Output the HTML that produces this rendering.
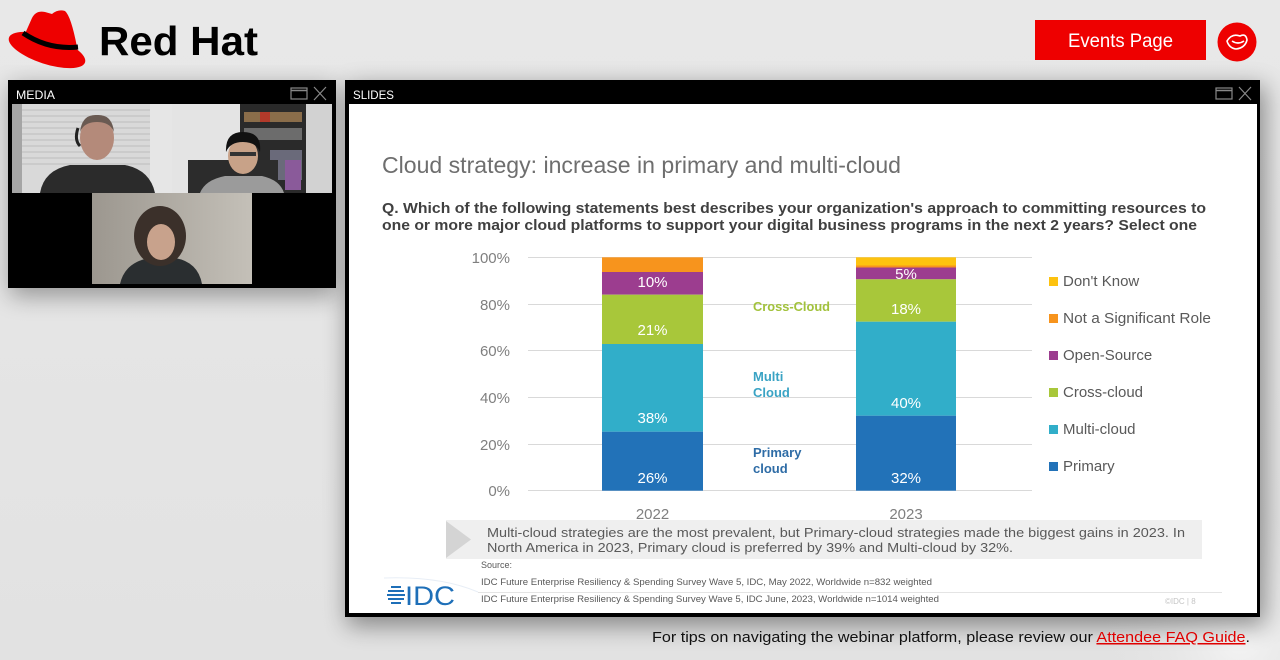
<!DOCTYPE html>
<html><head><meta charset="utf-8">
<style>
html,body{margin:0;padding:0;width:1280px;height:660px;overflow:hidden;background:#e3e3e3;}
svg{display:block;}
text{font-family:"Liberation Sans",Arial,sans-serif;}
</style></head>
<body>
<svg width="1280" height="660" viewBox="0 0 1280 660" xmlns="http://www.w3.org/2000/svg">
<defs>
  <linearGradient id="bg" x1="0" y1="0" x2="0" y2="1">
    <stop offset="0" stop-color="#e8e8e8"/>
    <stop offset="1" stop-color="#e2e2e2"/>
  </linearGradient>
  <radialGradient id="swoosh" cx="1240" cy="640" r="140" gradientUnits="userSpaceOnUse">
    <stop offset="0" stop-color="#f4f4f4"/>
    <stop offset="1" stop-color="#e3e3e3" stop-opacity="0"/>
  </radialGradient>
  <filter id="sh" x="-10%" y="-10%" width="125%" height="135%">
    <feGaussianBlur stdDeviation="12"/>
  </filter>
  <linearGradient id="wall" x1="0" y1="0" x2="1" y2="0">
    <stop offset="0" stop-color="#9c978f"/>
    <stop offset="1" stop-color="#c4c0b8"/>
  </linearGradient>
</defs>

<rect width="1280" height="660" fill="url(#bg)"/>
<rect width="1280" height="660" fill="url(#swoosh)"/>

<!-- Red Hat logo -->
<g>
  <ellipse cx="47" cy="50" rx="40" ry="14" transform="rotate(18 47 50)" fill="#ee0000"/>
  <path d="M24 36 L32 18 Q36 10 45 12 L52 14 Q58 9 65 11 Q71 16 77 47 Z" fill="#ee0000"/>
  <path d="M23 33 Q48 50 78 47" stroke="#000" stroke-width="5" fill="none"/>
</g>
<text x="99" y="55" font-size="41" font-weight="bold" fill="#000" textLength="159" lengthAdjust="spacingAndGlyphs">Red Hat</text>

<!-- Events button -->
<rect x="1035" y="20" width="171" height="40" fill="#ee0000"/>
<text x="1068" y="47" font-size="19" fill="#fff" textLength="105" lengthAdjust="spacingAndGlyphs">Events Page</text>
<circle cx="1237" cy="42" r="19.5" fill="#ee0000"/>
<path d="M1227 41 Q1232 33 1240 36 Q1246 33 1247 40 Q1245 48 1236 49 Q1229 48 1227 41 Z M1232 41 Q1238 45 1244 41" stroke="#fff" stroke-width="1.6" fill="none"/>

<!-- shadows -->
<rect x="10" y="86" width="326" height="210" fill="#000" opacity="0.35" filter="url(#sh)"/>
<rect x="347" y="86" width="918" height="540" fill="#000" opacity="0.4" filter="url(#sh)"/>

<!-- MEDIA panel -->
<rect x="8" y="80" width="328" height="208" fill="#000"/>
<text x="16" y="99" font-size="12" fill="#fff" textLength="39" lengthAdjust="spacingAndGlyphs">MEDIA</text>
<rect x="291" y="88" width="16" height="11" fill="none" stroke="#888" stroke-width="1.2"/>
<line x1="291" y1="90.5" x2="307" y2="90.5" stroke="#888" stroke-width="1.5"/>
<path d="M314 87 L326 100 M326 87 L314 100" stroke="#888" stroke-width="1.2"/>

<!-- video 1 -->
<rect x="12" y="104" width="160" height="89" fill="#d9d9d9"/>
<g stroke="#bdbdbd" stroke-width="1">
  <line x1="22" y1="110" x2="150" y2="110"/><line x1="22" y1="116" x2="150" y2="116"/>
  <line x1="22" y1="122" x2="150" y2="122"/><line x1="22" y1="128" x2="150" y2="128"/>
  <line x1="22" y1="134" x2="150" y2="134"/><line x1="22" y1="140" x2="150" y2="140"/>
  <line x1="22" y1="146" x2="150" y2="146"/><line x1="22" y1="152" x2="150" y2="152"/>
  <line x1="22" y1="158" x2="150" y2="158"/><line x1="22" y1="164" x2="150" y2="164"/>
</g>
<rect x="12" y="104" width="10" height="89" fill="#a5a5a5"/>
<rect x="150" y="104" width="22" height="89" fill="#e6e6e6"/>
<path d="M40 193 Q44 170 70 165 L125 165 Q150 170 155 193 Z" fill="#2b2b2b"/>
<ellipse cx="97" cy="138" rx="17" ry="22" fill="#b48a7a"/>
<path d="M80 132 Q82 114 97 115 Q112 114 114 132 Q110 122 97 122 Q84 122 80 132 Z" fill="#6a5a52"/>
<path d="M78 128 Q74 140 80 146" stroke="#222" stroke-width="3" fill="none"/>

<!-- video 2 -->
<rect x="172" y="104" width="160" height="89" fill="#e4e4e4"/>
<rect x="240" y="104" width="66" height="89" fill="#2a2a2a"/>
<rect x="244" y="112" width="58" height="10" fill="#8a6d4a"/>
<rect x="260" y="112" width="10" height="10" fill="#b23a2a"/>
<rect x="244" y="128" width="58" height="12" fill="#6c6c6c"/>
<rect x="270" y="150" width="32" height="30" fill="#6a6a7a"/>
<rect x="285" y="160" width="16" height="30" fill="#8a5a9a"/>
<rect x="306" y="104" width="26" height="89" fill="#d2d2d2"/>
<rect x="188" y="160" width="90" height="33" fill="#2c2c2c"/>
<path d="M200 193 Q205 180 225 176 L262 176 Q280 180 284 193 Z" fill="#9b9b9b"/>
<ellipse cx="243" cy="156" rx="15" ry="18" fill="#c8a288"/>
<path d="M226 152 Q225 132 243 132 Q262 132 260 152 Q256 142 243 142 Q230 142 226 152 Z" fill="#111"/>
<rect x="230" y="152" width="26" height="4" fill="#333"/>

<!-- video 3 -->
<rect x="92" y="193" width="160" height="91" fill="url(#wall)"/>
<path d="M120 284 Q125 262 150 258 L175 258 Q198 262 202 284 Z" fill="#2a2e30"/>
<ellipse cx="160" cy="236" rx="26" ry="30" fill="#3b302a"/>
<ellipse cx="161" cy="242" rx="14" ry="18" fill="#c8a28c"/>

<!-- SLIDES panel -->
<rect x="345" y="80" width="915" height="537" fill="#000"/>
<text x="353" y="99" font-size="12" fill="#fff" textLength="41" lengthAdjust="spacingAndGlyphs">SLIDES</text>
<rect x="1216" y="88" width="16" height="11" fill="none" stroke="#888" stroke-width="1.2"/>
<line x1="1216" y1="90.5" x2="1232" y2="90.5" stroke="#888" stroke-width="1.5"/>
<path d="M1239 87 L1251 100 M1251 87 L1239 100" stroke="#888" stroke-width="1.2"/>
<rect x="349" y="104" width="908" height="509" fill="#fff"/>

<!-- Title -->
<text x="382" y="173" font-size="23" fill="#6e6e6e" textLength="519" lengthAdjust="spacingAndGlyphs">Cloud strategy: increase in primary and multi-cloud</text>
<text x="382" y="213" font-size="15" font-weight="bold" fill="#404040" textLength="824" lengthAdjust="spacingAndGlyphs">Q. Which of the following statements best describes your organization's approach to committing resources to</text>
<text x="382" y="230" font-size="15" font-weight="bold" fill="#404040" textLength="815" lengthAdjust="spacingAndGlyphs">one or more major cloud platforms to support your digital business programs in the next 2 years? Select one</text>

<!-- gridlines -->
<g stroke="#d9d9d9" stroke-width="1">
  <line x1="528" y1="257.5" x2="1032" y2="257.5"/>
  <line x1="528" y1="304.5" x2="1032" y2="304.5"/>
  <line x1="528" y1="350.5" x2="1032" y2="350.5"/>
  <line x1="528" y1="397.5" x2="1032" y2="397.5"/>
  <line x1="528" y1="444.5" x2="1032" y2="444.5"/>
  <line x1="528" y1="490.5" x2="1032" y2="490.5"/>
</g>
<g font-size="15" fill="#7f7f7f" text-anchor="end">
  <text x="510" y="263">100%</text>
  <text x="510" y="310">80%</text>
  <text x="510" y="356">60%</text>
  <text x="510" y="403">40%</text>
  <text x="510" y="450">20%</text>
  <text x="510" y="496">0%</text>
</g>

<!-- bar 2022 -->
<rect x="602" y="257.3" width="101" height="14.7" fill="#f7941d"/>
<rect x="602" y="272" width="101" height="22.7" fill="#9c3d8f"/>
<rect x="602" y="294.7" width="101" height="49.3" fill="#a8c73a"/>
<rect x="602" y="344" width="101" height="87.7" fill="#31aec9"/>
<rect x="602" y="431.7" width="101" height="59" fill="#2272b8"/>
<!-- bar 2023 -->
<rect x="856" y="257.3" width="100" height="8.2" fill="#fdc20f"/>
<rect x="856" y="265.5" width="100" height="2" fill="#f7941d"/>
<rect x="856" y="267.5" width="100" height="11.8" fill="#9c3d8f"/>
<rect x="856" y="279.3" width="100" height="42.4" fill="#a8c73a"/>
<rect x="856" y="321.7" width="100" height="94" fill="#31aec9"/>
<rect x="856" y="415.7" width="100" height="75" fill="#2272b8"/>

<g font-size="15" fill="#fff" text-anchor="middle">
  <text x="652.5" y="287">10%</text>
  <text x="652.5" y="335">21%</text>
  <text x="652.5" y="423">38%</text>
  <text x="652.5" y="483">26%</text>
  <text x="906" y="279">5%</text>
  <text x="906" y="314">18%</text>
  <text x="906" y="408">40%</text>
  <text x="906" y="483">32%</text>
</g>

<g font-size="13" font-weight="bold">
  <text x="753" y="311" fill="#a2c23c" textLength="77" lengthAdjust="spacingAndGlyphs">Cross-Cloud</text>
  <text x="753" y="381" fill="#3aa3c4">Multi</text>
  <text x="753" y="397" fill="#3aa3c4">Cloud</text>
  <text x="753" y="457" fill="#2e6ca6">Primary</text>
  <text x="753" y="473" fill="#2e6ca6">cloud</text>
</g>

<g font-size="15" fill="#7f7f7f" text-anchor="middle">
  <text x="652.5" y="519">2022</text>
  <text x="906" y="519">2023</text>
</g>

<!-- legend -->
<rect x="1049" y="277" width="9" height="9" fill="#fdc20f"/>
<rect x="1049" y="314" width="9" height="9" fill="#f7941d"/>
<rect x="1049" y="351" width="9" height="9" fill="#9c3d8f"/>
<rect x="1049" y="388" width="9" height="9" fill="#a8c73a"/>
<rect x="1049" y="425" width="9" height="9" fill="#31aec9"/>
<rect x="1049" y="462" width="9" height="9" fill="#2272b8"/>
<g font-size="15" fill="#595959">
  <text x="1063" y="286">Don't Know</text>
  <text x="1063" y="323" textLength="148" lengthAdjust="spacingAndGlyphs">Not a Significant Role</text>
  <text x="1063" y="360">Open-Source</text>
  <text x="1063" y="397">Cross-cloud</text>
  <text x="1063" y="434">Multi-cloud</text>
  <text x="1063" y="471">Primary</text>
</g>

<!-- callout -->
<rect x="446" y="520" width="756" height="39" fill="#efefef"/>
<polygon points="446,521 471,539.5 446,558" fill="#d4d4d4"/>
<g font-size="13" fill="#595959">
  <text x="487" y="537" textLength="698" lengthAdjust="spacingAndGlyphs">Multi-cloud strategies are the most prevalent, but Primary-cloud strategies made the biggest gains in 2023.  In</text>
  <text x="487" y="552" textLength="526" lengthAdjust="spacingAndGlyphs">North America in 2023, Primary cloud is preferred by 39% and Multi-cloud by 32%.</text>
</g>

<!-- source -->
<g font-size="9" fill="#595959">
  <text x="481" y="568">Source:</text>
  <text x="481" y="585" textLength="451" lengthAdjust="spacingAndGlyphs">IDC Future Enterprise Resiliency &amp; Spending Survey Wave 5, IDC, May 2022, Worldwide n=832 weighted</text>
  <text x="481" y="602" textLength="458" lengthAdjust="spacingAndGlyphs">IDC Future Enterprise Resiliency &amp; Spending Survey Wave 5, IDC June, 2023, Worldwide n=1014 weighted</text>
</g>
<line x1="478" y1="592.5" x2="1222" y2="592.5" stroke="#e4e4e4" stroke-width="1"/>
<path d="M384 578 Q440 576 478 592" stroke="#e8eef6" stroke-width="1" fill="none"/>
<text x="1165" y="604" font-size="8" fill="#c4c4c4">©IDC |  8</text>

<!-- IDC logo -->
<g stroke="#1e6fb8" stroke-width="2">
  <line x1="391" y1="587" x2="401" y2="587"/>
  <line x1="388" y1="591" x2="404" y2="591"/>
  <line x1="387" y1="595" x2="405" y2="595"/>
  <line x1="388" y1="599" x2="404" y2="599"/>
  <line x1="391" y1="603" x2="401" y2="603"/>
</g>
<text x="405" y="605" font-size="27" fill="#1e6fb8" textLength="50" lengthAdjust="spacingAndGlyphs">IDC</text>

<!-- footer -->
<text x="652" y="642" font-size="15" fill="#111" textLength="598" lengthAdjust="spacingAndGlyphs">For tips on navigating the webinar platform, please review our <tspan fill="#e00000" text-decoration="underline">Attendee FAQ Guide</tspan>.</text>
</svg>
</body></html>
